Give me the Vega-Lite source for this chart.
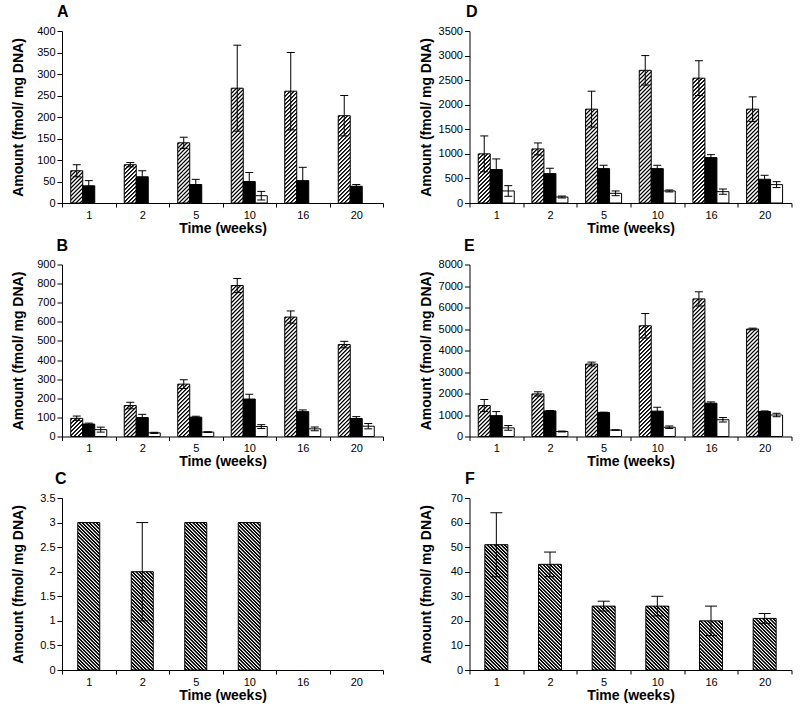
{
"$schema": "https://vega.github.io/schema/vega-lite/v6.json",
"padding": {"left": 11, "top": 4, "right": 5, "bottom": 5},
"params": [
{"name": "hatchUp", "value": [
{"offset":0,"color":"#fff"},{"offset":0.005,"color":"#000"},{"offset":0.009,"color":"#000"},{"offset":0.014,"color":"#fff"},
{"offset":0.02,"color":"#fff"},{"offset":0.025,"color":"#000"},{"offset":0.029,"color":"#000"},{"offset":0.034,"color":"#fff"},
{"offset":0.04,"color":"#fff"},{"offset":0.045,"color":"#000"},{"offset":0.049,"color":"#000"},{"offset":0.054,"color":"#fff"},
{"offset":0.06,"color":"#fff"},{"offset":0.065,"color":"#000"},{"offset":0.069,"color":"#000"},{"offset":0.074,"color":"#fff"},
{"offset":0.08,"color":"#fff"},{"offset":0.085,"color":"#000"},{"offset":0.089,"color":"#000"},{"offset":0.094,"color":"#fff"},
{"offset":0.1,"color":"#fff"},{"offset":0.105,"color":"#000"},{"offset":0.109,"color":"#000"},{"offset":0.114,"color":"#fff"},
{"offset":0.12,"color":"#fff"},{"offset":0.125,"color":"#000"},{"offset":0.129,"color":"#000"},{"offset":0.134,"color":"#fff"},
{"offset":0.14,"color":"#fff"},{"offset":0.145,"color":"#000"},{"offset":0.149,"color":"#000"},{"offset":0.154,"color":"#fff"},
{"offset":0.16,"color":"#fff"},{"offset":0.165,"color":"#000"},{"offset":0.169,"color":"#000"},{"offset":0.174,"color":"#fff"},
{"offset":0.18,"color":"#fff"},{"offset":0.185,"color":"#000"},{"offset":0.189,"color":"#000"},{"offset":0.194,"color":"#fff"},
{"offset":0.2,"color":"#fff"},{"offset":0.205,"color":"#000"},{"offset":0.209,"color":"#000"},{"offset":0.214,"color":"#fff"},
{"offset":0.22,"color":"#fff"},{"offset":0.225,"color":"#000"},{"offset":0.229,"color":"#000"},{"offset":0.234,"color":"#fff"},
{"offset":0.24,"color":"#fff"},{"offset":0.245,"color":"#000"},{"offset":0.249,"color":"#000"},{"offset":0.254,"color":"#fff"},
{"offset":0.26,"color":"#fff"},{"offset":0.265,"color":"#000"},{"offset":0.269,"color":"#000"},{"offset":0.274,"color":"#fff"},
{"offset":0.28,"color":"#fff"},{"offset":0.285,"color":"#000"},{"offset":0.289,"color":"#000"},{"offset":0.294,"color":"#fff"},
{"offset":0.3,"color":"#fff"},{"offset":0.305,"color":"#000"},{"offset":0.309,"color":"#000"},{"offset":0.314,"color":"#fff"},
{"offset":0.32,"color":"#fff"},{"offset":0.325,"color":"#000"},{"offset":0.329,"color":"#000"},{"offset":0.334,"color":"#fff"},
{"offset":0.34,"color":"#fff"},{"offset":0.345,"color":"#000"},{"offset":0.349,"color":"#000"},{"offset":0.354,"color":"#fff"},
{"offset":0.36,"color":"#fff"},{"offset":0.365,"color":"#000"},{"offset":0.369,"color":"#000"},{"offset":0.374,"color":"#fff"},
{"offset":0.38,"color":"#fff"},{"offset":0.385,"color":"#000"},{"offset":0.389,"color":"#000"},{"offset":0.394,"color":"#fff"},
{"offset":0.4,"color":"#fff"},{"offset":0.405,"color":"#000"},{"offset":0.409,"color":"#000"},{"offset":0.414,"color":"#fff"},
{"offset":0.42,"color":"#fff"},{"offset":0.425,"color":"#000"},{"offset":0.429,"color":"#000"},{"offset":0.434,"color":"#fff"},
{"offset":0.44,"color":"#fff"},{"offset":0.445,"color":"#000"},{"offset":0.449,"color":"#000"},{"offset":0.454,"color":"#fff"},
{"offset":0.46,"color":"#fff"},{"offset":0.465,"color":"#000"},{"offset":0.469,"color":"#000"},{"offset":0.474,"color":"#fff"},
{"offset":0.48,"color":"#fff"},{"offset":0.485,"color":"#000"},{"offset":0.489,"color":"#000"},{"offset":0.494,"color":"#fff"},
{"offset":0.5,"color":"#fff"},{"offset":0.505,"color":"#000"},{"offset":0.509,"color":"#000"},{"offset":0.514,"color":"#fff"},
{"offset":0.52,"color":"#fff"},{"offset":0.525,"color":"#000"},{"offset":0.529,"color":"#000"},{"offset":0.534,"color":"#fff"},
{"offset":0.54,"color":"#fff"},{"offset":0.545,"color":"#000"},{"offset":0.549,"color":"#000"},{"offset":0.554,"color":"#fff"},
{"offset":0.56,"color":"#fff"},{"offset":0.565,"color":"#000"},{"offset":0.569,"color":"#000"},{"offset":0.574,"color":"#fff"},
{"offset":0.58,"color":"#fff"},{"offset":0.585,"color":"#000"},{"offset":0.589,"color":"#000"},{"offset":0.594,"color":"#fff"},
{"offset":0.6,"color":"#fff"},{"offset":0.605,"color":"#000"},{"offset":0.609,"color":"#000"},{"offset":0.614,"color":"#fff"},
{"offset":0.62,"color":"#fff"},{"offset":0.625,"color":"#000"},{"offset":0.629,"color":"#000"},{"offset":0.634,"color":"#fff"},
{"offset":0.64,"color":"#fff"},{"offset":0.645,"color":"#000"},{"offset":0.649,"color":"#000"},{"offset":0.654,"color":"#fff"},
{"offset":0.66,"color":"#fff"},{"offset":0.665,"color":"#000"},{"offset":0.669,"color":"#000"},{"offset":0.674,"color":"#fff"},
{"offset":0.68,"color":"#fff"},{"offset":0.685,"color":"#000"},{"offset":0.689,"color":"#000"},{"offset":0.694,"color":"#fff"},
{"offset":0.7,"color":"#fff"},{"offset":0.705,"color":"#000"},{"offset":0.709,"color":"#000"},{"offset":0.714,"color":"#fff"},
{"offset":0.72,"color":"#fff"},{"offset":0.725,"color":"#000"},{"offset":0.729,"color":"#000"},{"offset":0.734,"color":"#fff"},
{"offset":0.74,"color":"#fff"},{"offset":0.745,"color":"#000"},{"offset":0.749,"color":"#000"},{"offset":0.754,"color":"#fff"},
{"offset":0.76,"color":"#fff"},{"offset":0.765,"color":"#000"},{"offset":0.769,"color":"#000"},{"offset":0.774,"color":"#fff"},
{"offset":0.78,"color":"#fff"},{"offset":0.785,"color":"#000"},{"offset":0.789,"color":"#000"},{"offset":0.794,"color":"#fff"},
{"offset":0.8,"color":"#fff"},{"offset":0.805,"color":"#000"},{"offset":0.809,"color":"#000"},{"offset":0.814,"color":"#fff"},
{"offset":0.82,"color":"#fff"},{"offset":0.825,"color":"#000"},{"offset":0.829,"color":"#000"},{"offset":0.834,"color":"#fff"},
{"offset":0.84,"color":"#fff"},{"offset":0.845,"color":"#000"},{"offset":0.849,"color":"#000"},{"offset":0.854,"color":"#fff"},
{"offset":0.86,"color":"#fff"},{"offset":0.865,"color":"#000"},{"offset":0.869,"color":"#000"},{"offset":0.874,"color":"#fff"},
{"offset":0.88,"color":"#fff"},{"offset":0.885,"color":"#000"},{"offset":0.889,"color":"#000"},{"offset":0.894,"color":"#fff"},
{"offset":0.9,"color":"#fff"},{"offset":0.905,"color":"#000"},{"offset":0.909,"color":"#000"},{"offset":0.914,"color":"#fff"},
{"offset":0.92,"color":"#fff"},{"offset":0.925,"color":"#000"},{"offset":0.929,"color":"#000"},{"offset":0.934,"color":"#fff"},
{"offset":0.94,"color":"#fff"},{"offset":0.945,"color":"#000"},{"offset":0.949,"color":"#000"},{"offset":0.954,"color":"#fff"},
{"offset":0.96,"color":"#fff"},{"offset":0.965,"color":"#000"},{"offset":0.969,"color":"#000"},{"offset":0.974,"color":"#fff"},
{"offset":0.98,"color":"#fff"},{"offset":0.985,"color":"#000"},{"offset":0.989,"color":"#000"},{"offset":0.994,"color":"#fff"},
{"offset":1,"color":"#fff"}
]},
{"name": "hatchDown", "value": [
{"offset":0,"color":"#fff"},{"offset":0.004,"color":"#000"},{"offset":0.012,"color":"#000"},{"offset":0.016,"color":"#fff"},
{"offset":0.02,"color":"#fff"},{"offset":0.024,"color":"#000"},{"offset":0.032,"color":"#000"},{"offset":0.036,"color":"#fff"},
{"offset":0.04,"color":"#fff"},{"offset":0.044,"color":"#000"},{"offset":0.052,"color":"#000"},{"offset":0.056,"color":"#fff"},
{"offset":0.06,"color":"#fff"},{"offset":0.064,"color":"#000"},{"offset":0.072,"color":"#000"},{"offset":0.076,"color":"#fff"},
{"offset":0.08,"color":"#fff"},{"offset":0.084,"color":"#000"},{"offset":0.092,"color":"#000"},{"offset":0.096,"color":"#fff"},
{"offset":0.1,"color":"#fff"},{"offset":0.104,"color":"#000"},{"offset":0.112,"color":"#000"},{"offset":0.116,"color":"#fff"},
{"offset":0.12,"color":"#fff"},{"offset":0.124,"color":"#000"},{"offset":0.132,"color":"#000"},{"offset":0.136,"color":"#fff"},
{"offset":0.14,"color":"#fff"},{"offset":0.144,"color":"#000"},{"offset":0.152,"color":"#000"},{"offset":0.156,"color":"#fff"},
{"offset":0.16,"color":"#fff"},{"offset":0.164,"color":"#000"},{"offset":0.172,"color":"#000"},{"offset":0.176,"color":"#fff"},
{"offset":0.18,"color":"#fff"},{"offset":0.184,"color":"#000"},{"offset":0.192,"color":"#000"},{"offset":0.196,"color":"#fff"},
{"offset":0.2,"color":"#fff"},{"offset":0.204,"color":"#000"},{"offset":0.212,"color":"#000"},{"offset":0.216,"color":"#fff"},
{"offset":0.22,"color":"#fff"},{"offset":0.224,"color":"#000"},{"offset":0.232,"color":"#000"},{"offset":0.236,"color":"#fff"},
{"offset":0.24,"color":"#fff"},{"offset":0.244,"color":"#000"},{"offset":0.252,"color":"#000"},{"offset":0.256,"color":"#fff"},
{"offset":0.26,"color":"#fff"},{"offset":0.264,"color":"#000"},{"offset":0.272,"color":"#000"},{"offset":0.276,"color":"#fff"},
{"offset":0.28,"color":"#fff"},{"offset":0.284,"color":"#000"},{"offset":0.292,"color":"#000"},{"offset":0.296,"color":"#fff"},
{"offset":0.3,"color":"#fff"},{"offset":0.304,"color":"#000"},{"offset":0.312,"color":"#000"},{"offset":0.316,"color":"#fff"},
{"offset":0.32,"color":"#fff"},{"offset":0.324,"color":"#000"},{"offset":0.332,"color":"#000"},{"offset":0.336,"color":"#fff"},
{"offset":0.34,"color":"#fff"},{"offset":0.344,"color":"#000"},{"offset":0.352,"color":"#000"},{"offset":0.356,"color":"#fff"},
{"offset":0.36,"color":"#fff"},{"offset":0.364,"color":"#000"},{"offset":0.372,"color":"#000"},{"offset":0.376,"color":"#fff"},
{"offset":0.38,"color":"#fff"},{"offset":0.384,"color":"#000"},{"offset":0.392,"color":"#000"},{"offset":0.396,"color":"#fff"},
{"offset":0.4,"color":"#fff"},{"offset":0.404,"color":"#000"},{"offset":0.412,"color":"#000"},{"offset":0.416,"color":"#fff"},
{"offset":0.42,"color":"#fff"},{"offset":0.424,"color":"#000"},{"offset":0.432,"color":"#000"},{"offset":0.436,"color":"#fff"},
{"offset":0.44,"color":"#fff"},{"offset":0.444,"color":"#000"},{"offset":0.452,"color":"#000"},{"offset":0.456,"color":"#fff"},
{"offset":0.46,"color":"#fff"},{"offset":0.464,"color":"#000"},{"offset":0.472,"color":"#000"},{"offset":0.476,"color":"#fff"},
{"offset":0.48,"color":"#fff"},{"offset":0.484,"color":"#000"},{"offset":0.492,"color":"#000"},{"offset":0.496,"color":"#fff"},
{"offset":0.5,"color":"#fff"},{"offset":0.504,"color":"#000"},{"offset":0.512,"color":"#000"},{"offset":0.516,"color":"#fff"},
{"offset":0.52,"color":"#fff"},{"offset":0.524,"color":"#000"},{"offset":0.532,"color":"#000"},{"offset":0.536,"color":"#fff"},
{"offset":0.54,"color":"#fff"},{"offset":0.544,"color":"#000"},{"offset":0.552,"color":"#000"},{"offset":0.556,"color":"#fff"},
{"offset":0.56,"color":"#fff"},{"offset":0.564,"color":"#000"},{"offset":0.572,"color":"#000"},{"offset":0.576,"color":"#fff"},
{"offset":0.58,"color":"#fff"},{"offset":0.584,"color":"#000"},{"offset":0.592,"color":"#000"},{"offset":0.596,"color":"#fff"},
{"offset":0.6,"color":"#fff"},{"offset":0.604,"color":"#000"},{"offset":0.612,"color":"#000"},{"offset":0.616,"color":"#fff"},
{"offset":0.62,"color":"#fff"},{"offset":0.624,"color":"#000"},{"offset":0.632,"color":"#000"},{"offset":0.636,"color":"#fff"},
{"offset":0.64,"color":"#fff"},{"offset":0.644,"color":"#000"},{"offset":0.652,"color":"#000"},{"offset":0.656,"color":"#fff"},
{"offset":0.66,"color":"#fff"},{"offset":0.664,"color":"#000"},{"offset":0.672,"color":"#000"},{"offset":0.676,"color":"#fff"},
{"offset":0.68,"color":"#fff"},{"offset":0.684,"color":"#000"},{"offset":0.692,"color":"#000"},{"offset":0.696,"color":"#fff"},
{"offset":0.7,"color":"#fff"},{"offset":0.704,"color":"#000"},{"offset":0.712,"color":"#000"},{"offset":0.716,"color":"#fff"},
{"offset":0.72,"color":"#fff"},{"offset":0.724,"color":"#000"},{"offset":0.732,"color":"#000"},{"offset":0.736,"color":"#fff"},
{"offset":0.74,"color":"#fff"},{"offset":0.744,"color":"#000"},{"offset":0.752,"color":"#000"},{"offset":0.756,"color":"#fff"},
{"offset":0.76,"color":"#fff"},{"offset":0.764,"color":"#000"},{"offset":0.772,"color":"#000"},{"offset":0.776,"color":"#fff"},
{"offset":0.78,"color":"#fff"},{"offset":0.784,"color":"#000"},{"offset":0.792,"color":"#000"},{"offset":0.796,"color":"#fff"},
{"offset":0.8,"color":"#fff"},{"offset":0.804,"color":"#000"},{"offset":0.812,"color":"#000"},{"offset":0.816,"color":"#fff"},
{"offset":0.82,"color":"#fff"},{"offset":0.824,"color":"#000"},{"offset":0.832,"color":"#000"},{"offset":0.836,"color":"#fff"},
{"offset":0.84,"color":"#fff"},{"offset":0.844,"color":"#000"},{"offset":0.852,"color":"#000"},{"offset":0.856,"color":"#fff"},
{"offset":0.86,"color":"#fff"},{"offset":0.864,"color":"#000"},{"offset":0.872,"color":"#000"},{"offset":0.876,"color":"#fff"},
{"offset":0.88,"color":"#fff"},{"offset":0.884,"color":"#000"},{"offset":0.892,"color":"#000"},{"offset":0.896,"color":"#fff"},
{"offset":0.9,"color":"#fff"},{"offset":0.904,"color":"#000"},{"offset":0.912,"color":"#000"},{"offset":0.916,"color":"#fff"},
{"offset":0.92,"color":"#fff"},{"offset":0.924,"color":"#000"},{"offset":0.932,"color":"#000"},{"offset":0.936,"color":"#fff"},
{"offset":0.94,"color":"#fff"},{"offset":0.944,"color":"#000"},{"offset":0.952,"color":"#000"},{"offset":0.956,"color":"#fff"},
{"offset":0.96,"color":"#fff"},{"offset":0.964,"color":"#000"},{"offset":0.972,"color":"#000"},{"offset":0.976,"color":"#fff"},
{"offset":0.98,"color":"#fff"},{"offset":0.984,"color":"#000"},{"offset":0.992,"color":"#000"},{"offset":0.996,"color":"#fff"},
{"offset":1,"color":"#fff"}
]}
],
"datasets": {
"A": [
{"week":"1","grp":"hatched","mean":75,"lo":61,"hi":89},
{"week":"1","grp":"black","mean":40,"lo":28,"hi":52},
{"week":"2","grp":"hatched","mean":89,"lo":84,"hi":94},
{"week":"2","grp":"black","mean":61,"lo":47,"hi":75},
{"week":"5","grp":"hatched","mean":140,"lo":127,"hi":153},
{"week":"5","grp":"black","mean":43,"lo":31,"hi":55},
{"week":"10","grp":"hatched","mean":267,"lo":167,"hi":367},
{"week":"10","grp":"black","mean":50,"lo":29,"hi":71},
{"week":"10","grp":"white","mean":17,"lo":7,"hi":27},
{"week":"16","grp":"hatched","mean":260,"lo":170,"hi":350},
{"week":"16","grp":"black","mean":52,"lo":21,"hi":83},
{"week":"20","grp":"hatched","mean":203,"lo":156,"hi":250},
{"week":"20","grp":"black","mean":39,"lo":35,"hi":43}
],
"B": [
{"week":"1","grp":"hatched","mean":95,"lo":83,"hi":107},
{"week":"1","grp":"black","mean":65,"lo":60,"hi":70},
{"week":"1","grp":"white","mean":36,"lo":23,"hi":49},
{"week":"2","grp":"hatched","mean":162,"lo":145,"hi":179},
{"week":"2","grp":"black","mean":99,"lo":82,"hi":116},
{"week":"2","grp":"white","mean":19,"lo":16,"hi":22},
{"week":"5","grp":"hatched","mean":274,"lo":251,"hi":297},
{"week":"5","grp":"black","mean":101,"lo":96,"hi":106},
{"week":"5","grp":"white","mean":23,"lo":21,"hi":25},
{"week":"10","grp":"hatched","mean":790,"lo":753,"hi":827},
{"week":"10","grp":"black","mean":196,"lo":171,"hi":221},
{"week":"10","grp":"white","mean":52,"lo":42,"hi":62},
{"week":"16","grp":"hatched","mean":625,"lo":593,"hi":657},
{"week":"16","grp":"black","mean":130,"lo":121,"hi":139},
{"week":"16","grp":"white","mean":40,"lo":30,"hi":50},
{"week":"20","grp":"hatched","mean":481,"lo":464,"hi":498},
{"week":"20","grp":"black","mean":94,"lo":84,"hi":104},
{"week":"20","grp":"white","mean":54,"lo":40,"hi":68}
],
"C": [
{"week":"1","grp":"hatched","mean":3},
{"week":"2","grp":"hatched","mean":2,"lo":1,"hi":3},
{"week":"5","grp":"hatched","mean":3},
{"week":"10","grp":"hatched","mean":3}
],
"D": [
{"week":"1","grp":"hatched","mean":1000,"lo":635,"hi":1365},
{"week":"1","grp":"black","mean":680,"lo":463,"hi":897},
{"week":"1","grp":"white","mean":245,"lo":137,"hi":353},
{"week":"2","grp":"hatched","mean":1100,"lo":978,"hi":1222},
{"week":"2","grp":"black","mean":598,"lo":489,"hi":707},
{"week":"2","grp":"white","mean":122,"lo":102,"hi":142},
{"week":"5","grp":"hatched","mean":1910,"lo":1545,"hi":2275},
{"week":"5","grp":"black","mean":700,"lo":632,"hi":768},
{"week":"5","grp":"white","mean":197,"lo":149,"hi":245},
{"week":"10","grp":"hatched","mean":2700,"lo":2400,"hi":3000},
{"week":"10","grp":"black","mean":700,"lo":632,"hi":768},
{"week":"10","grp":"white","mean":245,"lo":225,"hi":265},
{"week":"16","grp":"hatched","mean":2540,"lo":2185,"hi":2895},
{"week":"16","grp":"black","mean":924,"lo":864,"hi":984},
{"week":"16","grp":"white","mean":231,"lo":177,"hi":285},
{"week":"20","grp":"hatched","mean":1910,"lo":1660,"hi":2160},
{"week":"20","grp":"black","mean":483,"lo":402,"hi":564},
{"week":"20","grp":"white","mean":374,"lo":314,"hi":434}
],
"E": [
{"week":"1","grp":"hatched","mean":1440,"lo":1160,"hi":1720},
{"week":"1","grp":"black","mean":970,"lo":780,"hi":1160},
{"week":"1","grp":"white","mean":400,"lo":290,"hi":510},
{"week":"2","grp":"hatched","mean":1980,"lo":1880,"hi":2080},
{"week":"2","grp":"black","mean":1190,"lo":1170,"hi":1210},
{"week":"2","grp":"white","mean":232,"lo":212,"hi":252},
{"week":"5","grp":"hatched","mean":3370,"lo":3280,"hi":3460},
{"week":"5","grp":"black","mean":1112,"lo":1092,"hi":1132},
{"week":"5","grp":"white","mean":300,"lo":290,"hi":310},
{"week":"10","grp":"hatched","mean":5150,"lo":4580,"hi":5720},
{"week":"10","grp":"black","mean":1180,"lo":1000,"hi":1360},
{"week":"10","grp":"white","mean":430,"lo":370,"hi":490},
{"week":"16","grp":"hatched","mean":6400,"lo":6070,"hi":6730},
{"week":"16","grp":"black","mean":1550,"lo":1490,"hi":1610},
{"week":"16","grp":"white","mean":780,"lo":680,"hi":880},
{"week":"20","grp":"hatched","mean":5000,"lo":4960,"hi":5040},
{"week":"20","grp":"black","mean":1160,"lo":1130,"hi":1190},
{"week":"20","grp":"white","mean":1000,"lo":920,"hi":1080}
],
"F": [
{"week":"1","grp":"hatched","mean":51,"lo":38,"hi":64},
{"week":"2","grp":"hatched","mean":43,"lo":38,"hi":48},
{"week":"5","grp":"hatched","mean":26,"lo":24,"hi":28},
{"week":"10","grp":"hatched","mean":26,"lo":22,"hi":30},
{"week":"16","grp":"hatched","mean":20,"lo":14,"hi":26},
{"week":"20","grp":"hatched","mean":21,"lo":19,"hi":23}
]
},
"bounds": "flush",
"columns": 2,
"spacing": {"row": 61.5, "column": 86.5},
"concat": [
{"width": 321, "height": 172, "title": {"text": "A", "dx": -5}, "data": {"name": "A"},
 "encoding": {
  "x": {"field": "week", "type": "ordinal", "title": "Time (weeks)", "scale": {"domain": ["1","2","5","10","16","20"], "paddingInner": 0, "paddingOuter": 0}},
  "xOffset": {"field": "grp", "type": "nominal", "scale": {"domain": ["hatched","black","white"], "paddingInner": 0, "paddingOuter": 0.729}}
 },
 "layer": [
  {"mark": {"type": "bar", "stroke": "#000", "strokeWidth": 1, "fill": {"expr": "datum.grp == 'hatched' ? {gradient: 'linear', x1: 0, y1: 0, x2: 2400 / (144 + pow(datum.mean * 0.43, 2)), y2: 200 * datum.mean * 0.43 / (144 + pow(datum.mean * 0.43, 2)), stops: hatchUp} : (datum.grp == 'black' ? '#000' : '#fff')"}},
   "encoding": {"y": {"field": "mean", "type": "quantitative", "title": "Amount (fmol/ mg DNA)", "scale": {"domain": [0, 400], "nice": false}, "axis": {"values": [0,50,100,150,200,250,300,350,400], "labelExpr": "'' + datum.value", "labelOverlap": false}}}},
  {"transform": [{"filter": "isValid(datum.hi)"}], "mark": {"type": "rule", "color": "#000", "strokeWidth": 1},
   "encoding": {"y": {"field": "lo", "type": "quantitative", "title": "Amount (fmol/ mg DNA)", "axis": {"values": [0,50,100,150,200,250,300,350,400], "labelExpr": "'' + datum.value", "labelOverlap": false}}, "y2": {"field": "hi"}}},
  {"transform": [{"filter": "isValid(datum.hi)"}], "mark": {"type": "tick", "color": "#000", "thickness": 1, "opacity": 1},
   "encoding": {"y": {"field": "hi", "type": "quantitative", "title": "Amount (fmol/ mg DNA)", "axis": {"values": [0,50,100,150,200,250,300,350,400], "labelExpr": "'' + datum.value", "labelOverlap": false}}, "size": {"value": 8}}},
  {"transform": [{"filter": "isValid(datum.lo)"}], "mark": {"type": "tick", "color": "#000", "thickness": 1, "opacity": 1},
   "encoding": {"y": {"field": "lo", "type": "quantitative", "title": "Amount (fmol/ mg DNA)", "axis": {"values": [0,50,100,150,200,250,300,350,400], "labelExpr": "'' + datum.value", "labelOverlap": false}}, "size": {"value": 8}}}
 ]},
{"width": 322, "height": 172, "title": {"text": "D", "dx": -3.5}, "data": {"name": "D"},
 "encoding": {
  "x": {"field": "week", "type": "ordinal", "title": "Time (weeks)", "scale": {"domain": ["1","2","5","10","16","20"], "paddingInner": 0, "paddingOuter": 0}},
  "xOffset": {"field": "grp", "type": "nominal", "scale": {"domain": ["hatched","black","white"], "paddingInner": 0, "paddingOuter": 0.729}}
 },
 "layer": [
  {"mark": {"type": "bar", "stroke": "#000", "strokeWidth": 1, "fill": {"expr": "datum.grp == 'hatched' ? {gradient: 'linear', x1: 0, y1: 0, x2: 2400 / (144 + pow(datum.mean * 0.049143, 2)), y2: 200 * datum.mean * 0.049143 / (144 + pow(datum.mean * 0.049143, 2)), stops: hatchUp} : (datum.grp == 'black' ? '#000' : '#fff')"}},
   "encoding": {"y": {"field": "mean", "type": "quantitative", "title": "Amount (fmol/ mg DNA)", "scale": {"domain": [0, 3500], "nice": false}, "axis": {"values": [0,500,1000,1500,2000,2500,3000,3500], "labelExpr": "'' + datum.value", "labelOverlap": false}}}},
  {"transform": [{"filter": "isValid(datum.hi)"}], "mark": {"type": "rule", "color": "#000", "strokeWidth": 1},
   "encoding": {"y": {"field": "lo", "type": "quantitative", "title": "Amount (fmol/ mg DNA)", "axis": {"values": [0,500,1000,1500,2000,2500,3000,3500], "labelExpr": "'' + datum.value", "labelOverlap": false}}, "y2": {"field": "hi"}}},
  {"transform": [{"filter": "isValid(datum.hi)"}], "mark": {"type": "tick", "color": "#000", "thickness": 1, "opacity": 1},
   "encoding": {"y": {"field": "hi", "type": "quantitative", "title": "Amount (fmol/ mg DNA)", "axis": {"values": [0,500,1000,1500,2000,2500,3000,3500], "labelExpr": "'' + datum.value", "labelOverlap": false}}, "size": {"value": 8}}},
  {"transform": [{"filter": "isValid(datum.lo)"}], "mark": {"type": "tick", "color": "#000", "thickness": 1, "opacity": 1},
   "encoding": {"y": {"field": "lo", "type": "quantitative", "title": "Amount (fmol/ mg DNA)", "axis": {"values": [0,500,1000,1500,2000,2500,3000,3500], "labelExpr": "'' + datum.value", "labelOverlap": false}}, "size": {"value": 8}}}
 ]},
{"width": 321, "height": 172, "title": {"text": "B", "dx": -5.5}, "data": {"name": "B"},
 "encoding": {
  "x": {"field": "week", "type": "ordinal", "title": "Time (weeks)", "scale": {"domain": ["1","2","5","10","16","20"], "paddingInner": 0, "paddingOuter": 0}},
  "xOffset": {"field": "grp", "type": "nominal", "scale": {"domain": ["hatched","black","white"], "paddingInner": 0, "paddingOuter": 0.729}}
 },
 "layer": [
  {"mark": {"type": "bar", "stroke": "#000", "strokeWidth": 1, "fill": {"expr": "datum.grp == 'hatched' ? {gradient: 'linear', x1: 0, y1: 0, x2: 2400 / (144 + pow(datum.mean * 0.19111, 2)), y2: 200 * datum.mean * 0.19111 / (144 + pow(datum.mean * 0.19111, 2)), stops: hatchUp} : (datum.grp == 'black' ? '#000' : '#fff')"}},
   "encoding": {"y": {"field": "mean", "type": "quantitative", "title": "Amount (fmol/ mg DNA)", "scale": {"domain": [0, 900], "nice": false}, "axis": {"values": [0,100,200,300,400,500,600,700,800,900], "labelExpr": "'' + datum.value", "labelOverlap": false}}}},
  {"transform": [{"filter": "isValid(datum.hi)"}], "mark": {"type": "rule", "color": "#000", "strokeWidth": 1},
   "encoding": {"y": {"field": "lo", "type": "quantitative", "title": "Amount (fmol/ mg DNA)", "axis": {"values": [0,100,200,300,400,500,600,700,800,900], "labelExpr": "'' + datum.value", "labelOverlap": false}}, "y2": {"field": "hi"}}},
  {"transform": [{"filter": "isValid(datum.hi)"}], "mark": {"type": "tick", "color": "#000", "thickness": 1, "opacity": 1},
   "encoding": {"y": {"field": "hi", "type": "quantitative", "title": "Amount (fmol/ mg DNA)", "axis": {"values": [0,100,200,300,400,500,600,700,800,900], "labelExpr": "'' + datum.value", "labelOverlap": false}}, "size": {"value": 8}}},
  {"transform": [{"filter": "isValid(datum.lo)"}], "mark": {"type": "tick", "color": "#000", "thickness": 1, "opacity": 1},
   "encoding": {"y": {"field": "lo", "type": "quantitative", "title": "Amount (fmol/ mg DNA)", "axis": {"values": [0,100,200,300,400,500,600,700,800,900], "labelExpr": "'' + datum.value", "labelOverlap": false}}, "size": {"value": 8}}}
 ]},
{"width": 322, "height": 172, "title": {"text": "E", "dx": -5.5}, "data": {"name": "E"},
 "encoding": {
  "x": {"field": "week", "type": "ordinal", "title": "Time (weeks)", "scale": {"domain": ["1","2","5","10","16","20"], "paddingInner": 0, "paddingOuter": 0}},
  "xOffset": {"field": "grp", "type": "nominal", "scale": {"domain": ["hatched","black","white"], "paddingInner": 0, "paddingOuter": 0.729}}
 },
 "layer": [
  {"mark": {"type": "bar", "stroke": "#000", "strokeWidth": 1, "fill": {"expr": "datum.grp == 'hatched' ? {gradient: 'linear', x1: 0, y1: 0, x2: 2400 / (144 + pow(datum.mean * 0.0215, 2)), y2: 200 * datum.mean * 0.0215 / (144 + pow(datum.mean * 0.0215, 2)), stops: hatchUp} : (datum.grp == 'black' ? '#000' : '#fff')"}},
   "encoding": {"y": {"field": "mean", "type": "quantitative", "title": "Amount (fmol/ mg DNA)", "scale": {"domain": [0, 8000], "nice": false}, "axis": {"values": [0,1000,2000,3000,4000,5000,6000,7000,8000], "labelExpr": "'' + datum.value", "labelOverlap": false}}}},
  {"transform": [{"filter": "isValid(datum.hi)"}], "mark": {"type": "rule", "color": "#000", "strokeWidth": 1},
   "encoding": {"y": {"field": "lo", "type": "quantitative", "title": "Amount (fmol/ mg DNA)", "axis": {"values": [0,1000,2000,3000,4000,5000,6000,7000,8000], "labelExpr": "'' + datum.value", "labelOverlap": false}}, "y2": {"field": "hi"}}},
  {"transform": [{"filter": "isValid(datum.hi)"}], "mark": {"type": "tick", "color": "#000", "thickness": 1, "opacity": 1},
   "encoding": {"y": {"field": "hi", "type": "quantitative", "title": "Amount (fmol/ mg DNA)", "axis": {"values": [0,1000,2000,3000,4000,5000,6000,7000,8000], "labelExpr": "'' + datum.value", "labelOverlap": false}}, "size": {"value": 8}}},
  {"transform": [{"filter": "isValid(datum.lo)"}], "mark": {"type": "tick", "color": "#000", "thickness": 1, "opacity": 1},
   "encoding": {"y": {"field": "lo", "type": "quantitative", "title": "Amount (fmol/ mg DNA)", "axis": {"values": [0,1000,2000,3000,4000,5000,6000,7000,8000], "labelExpr": "'' + datum.value", "labelOverlap": false}}, "size": {"value": 8}}}
 ]},
{"width": 321, "height": 172, "title": {"text": "C", "dx": -7}, "data": {"name": "C"},
 "encoding": {
  "x": {"field": "week", "type": "ordinal", "title": "Time (weeks)", "scale": {"domain": ["1","2","5","10","16","20"], "paddingInner": 0, "paddingOuter": 0}}
 },
 "layer": [
  {"mark": {"type": "bar", "width": 22, "stroke": "#000", "strokeWidth": 1, "fill": {"expr": "{gradient: 'linear', x1: 0, y1: 1, x2: 3850 / (484 + pow(datum.mean * 49.143, 2)), y2: 1 - 175 * datum.mean * 49.143 / (484 + pow(datum.mean * 49.143, 2)), stops: hatchDown}"}},
   "encoding": {"y": {"field": "mean", "type": "quantitative", "title": "Amount (fmol/ mg DNA)", "scale": {"domain": [0, 3.5], "nice": false}, "axis": {"values": [0,0.5,1,1.5,2,2.5,3,3.5], "labelExpr": "'' + datum.value", "labelOverlap": false}}}},
  {"transform": [{"filter": "isValid(datum.hi)"}], "mark": {"type": "rule", "color": "#000", "strokeWidth": 1},
   "encoding": {"y": {"field": "lo", "type": "quantitative", "title": "Amount (fmol/ mg DNA)", "axis": {"values": [0,0.5,1,1.5,2,2.5,3,3.5], "labelExpr": "'' + datum.value", "labelOverlap": false}}, "y2": {"field": "hi"}}},
  {"transform": [{"filter": "isValid(datum.hi)"}], "mark": {"type": "tick", "color": "#000", "thickness": 1, "opacity": 1},
   "encoding": {"y": {"field": "hi", "type": "quantitative", "title": "Amount (fmol/ mg DNA)", "axis": {"values": [0,0.5,1,1.5,2,2.5,3,3.5], "labelExpr": "'' + datum.value", "labelOverlap": false}}, "size": {"value": 12}}},
  {"transform": [{"filter": "isValid(datum.lo)"}], "mark": {"type": "tick", "color": "#000", "thickness": 1, "opacity": 1},
   "encoding": {"y": {"field": "lo", "type": "quantitative", "title": "Amount (fmol/ mg DNA)", "axis": {"values": [0,0.5,1,1.5,2,2.5,3,3.5], "labelExpr": "'' + datum.value", "labelOverlap": false}}, "size": {"value": 12}}}
 ]},
{"width": 322, "height": 172, "title": {"text": "F", "dx": -4.5}, "data": {"name": "F"},
 "encoding": {
  "x": {"field": "week", "type": "ordinal", "title": "Time (weeks)", "scale": {"domain": ["1","2","5","10","16","20"], "paddingInner": 0, "paddingOuter": 0}}
 },
 "layer": [
  {"mark": {"type": "bar", "width": 23, "stroke": "#000", "strokeWidth": 1, "fill": {"expr": "{gradient: 'linear', x1: 0, y1: 1, x2: 4025 / (529 + pow(datum.mean * 2.4571, 2)), y2: 1 - 175 * datum.mean * 2.4571 / (529 + pow(datum.mean * 2.4571, 2)), stops: hatchDown}"}},
   "encoding": {"y": {"field": "mean", "type": "quantitative", "title": "Amount (fmol/ mg DNA)", "scale": {"domain": [0, 70], "nice": false}, "axis": {"values": [0,10,20,30,40,50,60,70], "labelExpr": "'' + datum.value", "labelOverlap": false}}}},
  {"transform": [{"filter": "isValid(datum.hi)"}], "mark": {"type": "rule", "color": "#000", "strokeWidth": 1},
   "encoding": {"y": {"field": "lo", "type": "quantitative", "title": "Amount (fmol/ mg DNA)", "axis": {"values": [0,10,20,30,40,50,60,70], "labelExpr": "'' + datum.value", "labelOverlap": false}}, "y2": {"field": "hi"}}},
  {"transform": [{"filter": "isValid(datum.hi)"}], "mark": {"type": "tick", "color": "#000", "thickness": 1, "opacity": 1},
   "encoding": {"y": {"field": "hi", "type": "quantitative", "title": "Amount (fmol/ mg DNA)", "axis": {"values": [0,10,20,30,40,50,60,70], "labelExpr": "'' + datum.value", "labelOverlap": false}}, "size": {"value": 12}}},
  {"transform": [{"filter": "isValid(datum.lo)"}], "mark": {"type": "tick", "color": "#000", "thickness": 1, "opacity": 1},
   "encoding": {"y": {"field": "lo", "type": "quantitative", "title": "Amount (fmol/ mg DNA)", "axis": {"values": [0,10,20,30,40,50,60,70], "labelExpr": "'' + datum.value", "labelOverlap": false}}, "size": {"value": 12}}}
 ]}
],
"config": {
 "font": "Liberation Sans",
 "view": {"stroke": null},
 "axis": {"grid": false, "domainColor": "#000", "tickColor": "#000", "labelColor": "#000", "titleColor": "#000", "labelFontSize": 11, "titleFontSize": 14, "titleFontWeight": "bold", "labelFont": "Liberation Sans", "titleFont": "Liberation Sans", "domainWidth": 1, "tickWidth": 1},
 "axisX": {"tickBand": "extent", "tickSize": 4, "labelPadding": 2, "labelAngle": 0, "minExtent": 17, "maxExtent": 17, "titlePadding": 12, "titleBaseline": "alphabetic"},
 "axisY": {"tickSize": 5, "labelPadding": 2, "minExtent": 33, "maxExtent": 33, "titlePadding": 6.5, "titleBaseline": "alphabetic"},
 "title": {"anchor": "start", "frame": "group", "fontSize": 16, "fontWeight": "bold", "baseline": "alphabetic", "offset": 5, "color": "#000", "font": "Liberation Sans"}
}
}
